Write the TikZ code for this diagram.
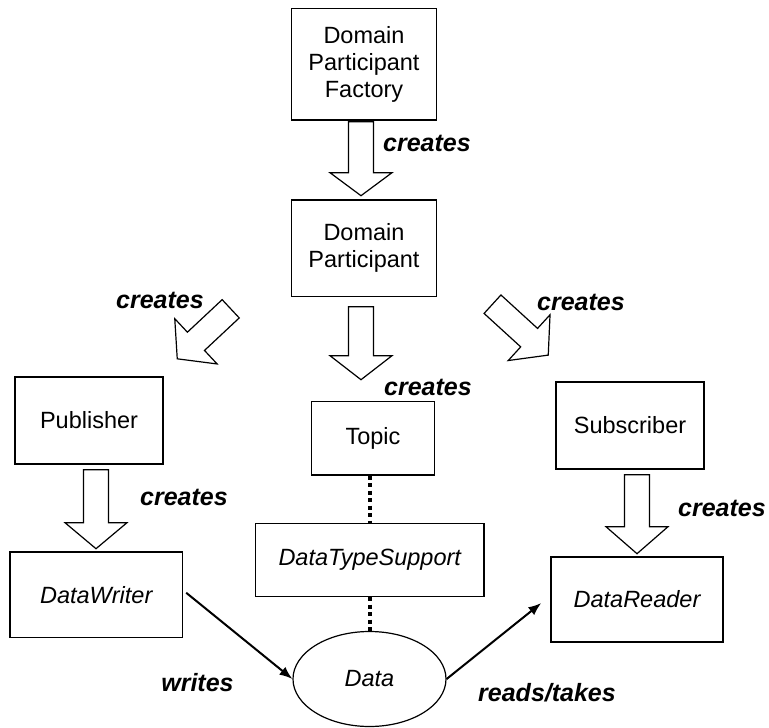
\documentclass[tikz,border=0pt]{standalone}
\usepackage{fontspec}
\setmainfont{Liberation Sans}
\usetikzlibrary{calc,arrows.meta,shapes.geometric}
\tikzset{
  pics/blockarr/.style 2 args={code={
    \draw[barrowstyle] (-12.5,0) -- (-12.5,-#1) -- (-31,-#1) -- (0,-#2) -- (31,-#1) -- (12.5,-#1) -- (12.5,0) -- cycle;}}
}
\begin{document}
\begin{tikzpicture}[x=1pt,y=1pt,
  box/.style={draw, line width=1.4pt, rectangle, inner sep=0pt, align=center, font=\fontsize{23.5}{27}\selectfont},
  lbl/.style={font=\fontsize{25}{28}\selectfont\bfseries\itshape, inner sep=0pt},
  barrowstyle/.style={draw, line width=1.2pt, fill=white, line join=miter},
  dotline/.style={line width=4pt, dash pattern=on 4pt off 3.5pt},
  thinarrow/.style={line width=2pt, -{Latex[length=13pt,width=10pt]}}
]
\useasboundingbox (0,0) rectangle (769,-728);

% boxes
\node[box, minimum width=145pt, minimum height=111.5pt] (dpf) at (364,-64.25) {Domain\\Participant\\Factory};
\node[box, minimum width=145pt, minimum height=96.7pt] (dp) at (364,-248.35) {Domain\\Participant};
\node[box, minimum width=122.6pt, minimum height=73.3pt] (topic) at (373,-438.35) {Topic};
\node[box, minimum width=228.5pt, minimum height=73.2pt] (dts) at (369.75,-559.9) {\itshape DataTypeSupport};
\node[draw, ellipse, line width=1.2pt, minimum width=153pt, minimum height=95pt, inner sep=0pt,
      font=\fontsize{23.5}{27}\selectfont\itshape] (data) at (369.5,-679) {Data};
\node[box, minimum width=148pt, minimum height=87pt] (pub) at (89,-420.5) {Publisher};
\node[box, minimum width=172.5pt, minimum height=85.5pt] (dw) at (96.25,-594.75) {\itshape DataWriter};
\node[box, minimum width=148pt, minimum height=87pt] (sub) at (630,-425.5) {Subscriber};
\node[box, minimum width=172pt, minimum height=85pt] (dr) at (637,-599.5) {\itshape DataReader};

% dotted links
\draw[dotline] (topic.south -| data.north) -- (dts.north -| data.north);
\draw[dotline] (dts.south -| data.north) -- (data.north);

% thin arrows
\draw[thinarrow] ($(dw.east)+(3,2)$) -- (data.west);
\draw[thinarrow] (data.east) -- ($(dr.west)+(-9,-3.5)$);

% block arrows
\coordinate (t1) at ($(dpf.south)+(-3,-1)$);
\coordinate (t2) at ($(dp.south)+(-3,-9.3)$);
\coordinate (t3) at ($(pub.south)+(7,-5)$);
\coordinate (t4) at ($(sub.south)+(7,-5)$);
\coordinate (tl) at (230.7,-308.8);
\coordinate (tr) at (492.5,-304.2);
\pic at (t1) {blockarr={51}{74}};
\pic at (t2) {blockarr={49}{73}};
\pic at (t3) {blockarr={53}{79}};
\pic at (t4) {blockarr={52}{79}};
\pic[rotate=-46.9] at (tl) {blockarr={47.6}{73.2}};
\pic[rotate=47.6] at (tr) {blockarr={49.6}{75.5}};

% labels
\node[lbl] (c1) at (427,-143) {creates};
\node[lbl] (c2) at (428,-387) {creates};
\node[lbl] (c3) at (160,-300) {creates};
\node[lbl] (c4) at (581,-302) {creates};
\node[lbl] (c5) at (184,-497) {creates};
\node[lbl] (c6) at (722,-508) {creates};
\node[lbl] (w) at (197.5,-683) {writes};
\node[lbl] (rt) at (547,-693) {reads/takes};
\end{tikzpicture}
\end{document}
